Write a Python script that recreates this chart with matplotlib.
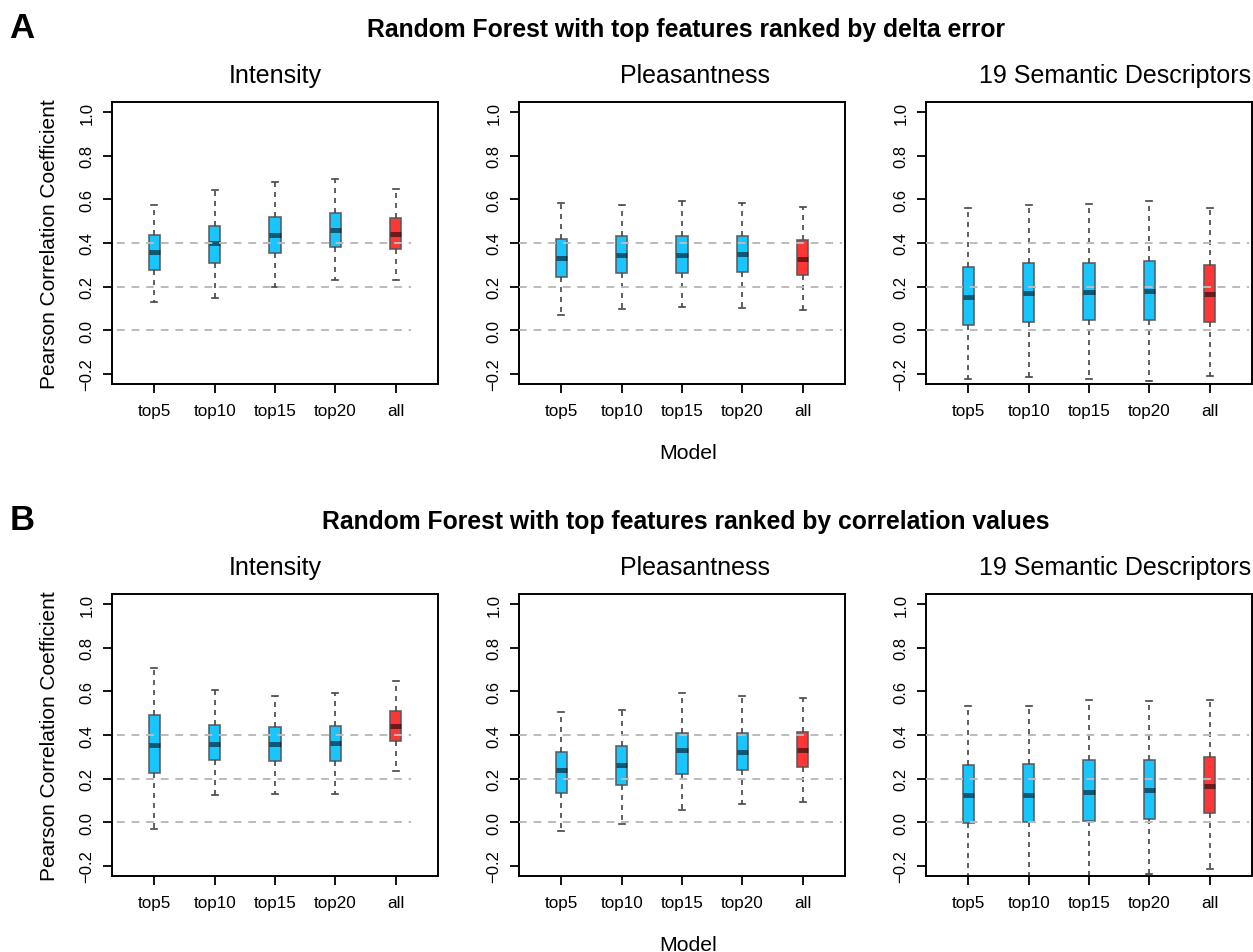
import matplotlib
matplotlib.use('Agg')
import matplotlib.pyplot as plt

plt.rcParams['font.family'] = ['Liberation Sans', 'DejaVu Sans']

models = ['top5', 'top10', 'top15', 'top20', 'all']
panels = ['Intensity', 'Pleasantness', '19 Semantic Descriptors']
row_titles = ['Random Forest with top features ranked by delta error',
              'Random Forest with top features ranked by correlation values']

# box stats: whisker low, Q1, median, Q3, whisker high
# row A (delta error)
a_int_lo = [0.128, 0.145, 0.199, 0.228, 0.232]
a_int_q1 = [0.278, 0.307, 0.353, 0.382, 0.372]
a_int_med = [0.360, 0.398, 0.437, 0.460, 0.442]
a_int_q3 = [0.439, 0.480, 0.520, 0.537, 0.514]
a_int_hi = [0.575, 0.642, 0.682, 0.693, 0.650]

a_ple_lo = [0.067, 0.095, 0.106, 0.102, 0.092]
a_ple_q1 = [0.242, 0.263, 0.260, 0.266, 0.252]
a_ple_med = [0.330, 0.343, 0.344, 0.349, 0.327]
a_ple_q3 = [0.417, 0.434, 0.430, 0.433, 0.413]
a_ple_hi = [0.586, 0.573, 0.592, 0.586, 0.566]

a_sem_lo = [-0.223, -0.214, -0.223, -0.232, -0.213]
a_sem_q1 = [0.023, 0.038, 0.044, 0.044, 0.038]
a_sem_med = [0.153, 0.168, 0.176, 0.179, 0.165]
a_sem_q3 = [0.290, 0.306, 0.310, 0.318, 0.301]
a_sem_hi = [0.560, 0.573, 0.578, 0.592, 0.563]

# row B (correlation values)
b_int_lo = [-0.032, 0.124, 0.130, 0.128, 0.234]
b_int_q1 = [0.226, 0.284, 0.280, 0.280, 0.373]
b_int_med = [0.353, 0.359, 0.359, 0.362, 0.442]
b_int_q3 = [0.494, 0.446, 0.437, 0.440, 0.512]
b_int_hi = [0.708, 0.606, 0.578, 0.595, 0.648]

b_ple_lo = [-0.043, -0.009, 0.054, 0.083, 0.093]
b_ple_q1 = [0.135, 0.170, 0.222, 0.239, 0.252]
b_ple_med = [0.237, 0.262, 0.329, 0.324, 0.329]
b_ple_q3 = [0.321, 0.350, 0.411, 0.407, 0.413]
b_ple_hi = [0.505, 0.515, 0.595, 0.578, 0.569]

b_sem_lo = [-0.27, -0.27, -0.26, -0.24, -0.216]
b_sem_q1 = [-0.005, -0.002, 0.005, 0.015, 0.040]
b_sem_med = [0.122, 0.125, 0.139, 0.147, 0.165]
b_sem_q3 = [0.263, 0.265, 0.283, 0.284, 0.301]
b_sem_hi = [0.534, 0.535, 0.560, 0.555, 0.563]

data = [
    [(a_int_lo, a_int_q1, a_int_med, a_int_q3, a_int_hi),
     (a_ple_lo, a_ple_q1, a_ple_med, a_ple_q3, a_ple_hi),
     (a_sem_lo, a_sem_q1, a_sem_med, a_sem_q3, a_sem_hi)],
    [(b_int_lo, b_int_q1, b_int_med, b_int_q3, b_int_hi),
     (b_ple_lo, b_ple_q1, b_ple_med, b_ple_q3, b_ple_hi),
     (b_sem_lo, b_sem_q1, b_sem_med, b_sem_q3, b_sem_hi)],
]

W, H = 1253, 953
fig = plt.figure(figsize=(W / 100, H / 100), dpi=100)

lefts = [112, 519, 926]
tops = [103, 595]
aw, ah = 326, 282
title_x = [275, 695, 1115]
blue = '#00BFFF'
red = '#FF2020'

for r in range(2):
    for c in range(3):
        ax = fig.add_axes([lefts[c] / W, 1 - (tops[r] + ah) / H, aw / W, ah / H])
        lo, q1, med, q3, hi = data[r][c]
        stats = []
        for i in range(len(models)):
            stats.append(dict(whislo=lo[i], q1=q1[i], med=med[i], q3=q3[i],
                              whishi=hi[i], fliers=[], label=models[i]))
        bp = ax.bxp(stats, positions=range(1, 6), widths=0.19, patch_artist=True,
                    showfliers=False,
                    boxprops=dict(edgecolor='#555555', linewidth=1.2),
                    medianprops=dict(color='black', alpha=0.55, linewidth=3.6,
                                     solid_capstyle='butt'),
                    whiskerprops=dict(color='#444444', linewidth=1.2,
                                      linestyle=(0, (3, 3))),
                    capprops=dict(color='#444444', linewidth=1.2),
                    capwidths=0.1)
        for i, box in enumerate(bp['boxes']):
            box.set_facecolor(red if models[i] == 'all' else blue)
            box.set_alpha(0.9)
            box.set_edgecolor('#555555')
        x0 = 0.38 if c == 0 else 0.3
        x1 = 5.25 if c == 0 else 5.65
        ax.hlines([0.0, 0.2, 0.4], x0, x1, colors='#bbbbbb', linewidth=1.4,
                  linestyles=(0, (4, 3.5)), zorder=4)
        ax.set_xlim(0.3, 5.7)
        ax.set_ylim(-0.248, 1.048)
        ax.set_yticks([-0.2, 0.0, 0.2, 0.4, 0.6, 0.8, 1.0])
        ax.set_yticklabels(['\u22120.2', '0.0', '0.2', '0.4', '0.6', '0.8', '1.0'],
                           rotation=90, va='center')
        ax.set_xticks(range(1, 6))
        ax.set_xticklabels(models)
        ax.tick_params(axis='both', direction='out', length=6.5, width=1.3,
                       color='black')
        ax.tick_params(axis='x', pad=7, labelsize=12.3)
        ax.tick_params(axis='y', pad=6, labelsize=12)
        for s in ax.spines.values():
            s.set_linewidth(1.4)
        if c == 0:
            ax.set_ylabel('Pearson Correlation Coefficient', fontsize=15, labelpad=15)
        fig.text(title_x[c] / W, 1 - (tops[r] - 27) / H, panels[c], fontsize=18,
                 ha='center', va='center')
    fig.text(688 / W, 1 - (tops[r] + 351) / H, 'Model', fontsize=15.3,
             ha='center', va='center')
    fig.text(686 / W, 1 - (tops[r] - 73) / H, row_titles[r], fontsize=17.8,
             fontweight='bold', ha='center', va='center')
    fig.text(22 / W, 1 - (tops[r] - 74) / H, 'AB'[r], fontsize=25,
             fontweight='bold', ha='center', va='center')

fig.savefig('out.png', dpi=100)
